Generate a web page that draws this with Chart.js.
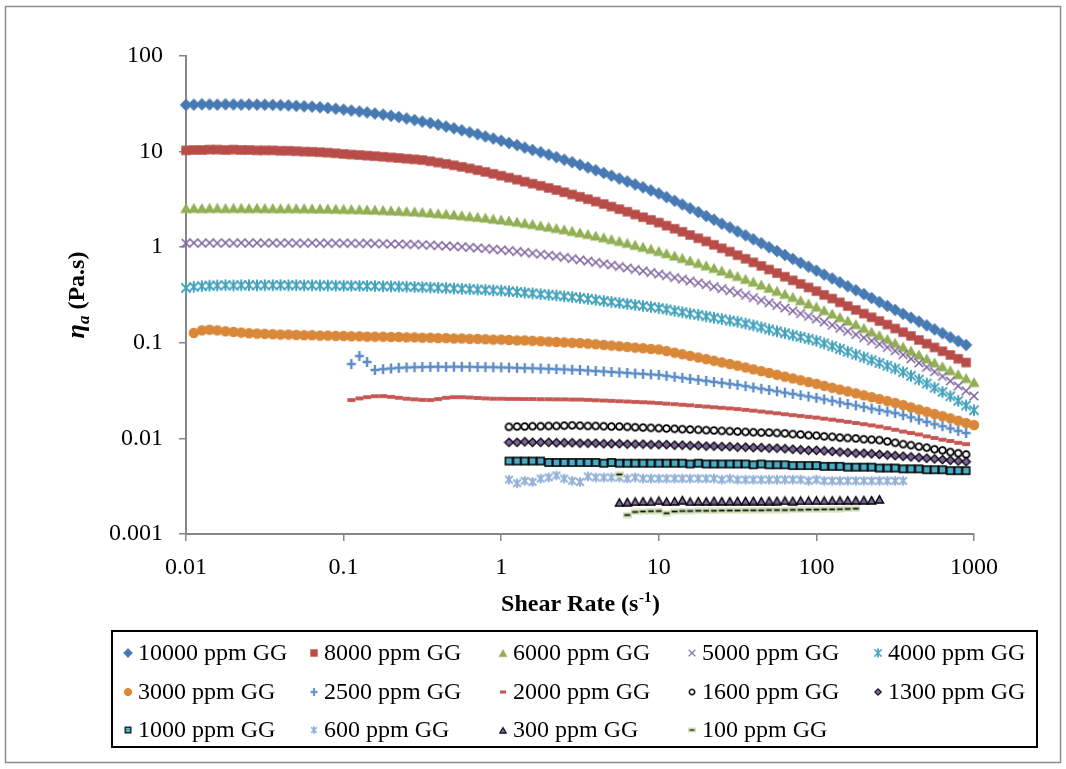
<!DOCTYPE html>
<html>
<head>
<meta charset="utf-8">
<script src="https://cdn.jsdelivr.net/npm/chart.js@4.4.1/dist/chart.umd.min.js"></script>
<style>
  html, body { margin: 0; padding: 0; background: #fff; }
  #wrap { width: 1066px; height: 769px; }
</style>
</head>
<body>
<div id="wrap"><canvas id="chart" width="1066" height="769"></canvas></div>
<script>
// shear rate grid (s-1), 20 points per decade
const xGrid = [0.01,0.0112,0.0126,0.0141,0.0158,0.0178,0.02,0.0224,0.0251,0.0282,0.0316,0.0355,0.0398,0.0447,0.0501,0.0562,0.0631,0.0708,0.0794,0.0891,
  0.1,0.112,0.126,0.141,0.158,0.178,0.2,0.224,0.251,0.282,0.316,0.355,0.398,0.447,0.501,0.562,0.631,0.708,0.794,0.891,
  1,1.12,1.26,1.41,1.58,1.78,2,2.24,2.51,2.82,3.16,3.55,3.98,4.47,5.01,5.62,6.31,7.08,7.94,8.91,
  10,11.2,12.6,14.1,15.8,17.8,20,22.4,25.1,28.2,31.6,35.5,39.8,44.7,50.1,56.2,63.1,70.8,79.4,89.1,
  100,112,126,141,158,178,200,224,251,282,316,355,398,447,501,562,631,708,794,891,1000];

const xTicks = [0.01, 0.1, 1, 10, 100, 1000];
const xTickLabels = ['0.01', '0.1', '1', '10', '100', '1000'];
const yTicks = [0.001, 0.01, 0.1, 1, 10, 100];
const yTickLabels = ['0.001', '0.01', '0.1', '1', '10', '100'];

const labels = ['10000 ppm GG','8000 ppm GG','6000 ppm GG','5000 ppm GG','4000 ppm GG',
  '3000 ppm GG','2500 ppm GG','2000 ppm GG','1600 ppm GG','1300 ppm GG',
  '1000 ppm GG','600 ppm GG','300 ppm GG','100 ppm GG'];
// index into xGrid of each series' first point
const startIdx = [0, 0, 0, 0, 0, 1, 21, 21, 41, 41, 41, 41, 55, 55];

// apparent viscosity (Pa.s)
const eta10000 = [30.8,31,31.2,31.1,31,31.2,31.1,31,31.1,31,30.9,
  30.8,30.6,30.4,30.1,29.8,29.5,29.1,28.6,28.1,27.5,
  26.9,26.3,25.7,25.0,24.4,23.7,23.0,22.2,21.4,20.6,
  19.9,19.1,18.3,17.5,16.7,15.9,15.2,14.4,13.7,13.0,
  12.3,11.7,11.0,10.4,9.85,9.29,8.75,8.23,7.74,7.27,
  6.82,6.39,5.98,5.59,5.22,4.87,4.54,4.23,3.93,3.65,
  3.34,3.06,2.80,2.55,2.33,2.12,1.94,1.76,1.61,1.46,
  1.33,1.21,1.10,1.00,0.911,0.829,0.754,0.686,0.625,0.568,
  0.517,0.471,0.428,0.390,0.355,0.323,0.294,0.267,0.243,0.221,
  0.201,0.183,0.167,0.152,0.138,0.126,0.114,0.104,0.0949];
const eta8000 = [10.3,10.4,10.4,10.5,10.5,10.4,10.5,10.4,10.4,10.3,10.3,
  10.3,10.2,10.2,10.1,10.0,9.95,9.85,9.75,9.6,9.45,
  9.32,9.2,9.08,8.96,8.83,8.7,8.57,8.43,8.3,8.16,
  7.93,7.69,7.45,7.19,6.93,6.67,6.40,6.13,5.86,5.59,
  5.34,5.09,4.85,4.62,4.39,4.17,3.96,3.76,3.56,3.37,
  3.18,3.00,2.83,2.66,2.50,2.35,2.20,2.06,1.93,1.81,
  1.68,1.56,1.45,1.34,1.24,1.15,1.06,0.975,0.898,0.826,
  0.757,0.694,0.637,0.584,0.536,0.491,0.450,0.413,0.379,0.347,
  0.317,0.290,0.265,0.242,0.221,0.202,0.185,0.169,0.155,0.141,
  0.129,0.118,0.107,0.0980,0.0895,0.0817,0.0746,0.0681,0.0622];
const eta6000 = [2.57,2.58,2.57,2.58,2.58,2.57,2.58,2.58,2.57,2.58,2.57,
  2.57,2.56,2.57,2.56,2.56,2.55,2.55,2.54,2.53,2.52,
  2.51,2.50,2.48,2.47,2.45,2.43,2.41,2.39,2.37,2.34,
  2.31,2.27,2.24,2.20,2.16,2.12,2.08,2.04,1.99,1.95,
  1.90,1.85,1.80,1.75,1.69,1.64,1.59,1.54,1.48,1.43,
  1.376,1.322,1.269,1.216,1.164,1.111,1.06,1.01,0.962,0.915,
  0.866,0.818,0.772,0.728,0.686,0.646,0.607,0.570,0.535,0.501,
  0.467,0.436,0.406,0.377,0.350,0.325,0.302,0.279,0.258,0.239,
  0.220,0.202,0.186,0.171,0.157,0.143,0.131,0.120,0.110,0.100,
  0.0910,0.0828,0.0754,0.0686,0.0624,0.0568,0.0517,0.0470,0.0428,0.0389];
const eta5000 = [1.10,1.11,1.10,1.11,1.10,1.11,1.10,1.11,1.10,1.11,1.10,
  1.11,1.10,1.11,1.10,1.10,1.11,1.10,1.10,1.10,1.10,
  1.10,1.09,1.10,1.09,1.09,1.08,1.08,1.07,1.07,1.06,
  1.05,1.04,1.03,1.02,1.01,0.995,0.982,0.968,0.953,0.937,
  0.920,0.902,0.883,0.864,0.844,0.824,0.803,0.782,0.760,0.738,
  0.716,0.694,0.672,0.650,0.628,0.606,0.585,0.564,0.543,0.523,
  0.503,0.482,0.463,0.443,0.424,0.405,0.386,0.368,0.350,0.333,
  0.314,0.296,0.278,0.262,0.246,0.231,0.216,0.202,0.189,0.177,
  0.165,0.153,0.142,0.132,0.122,0.113,0.105,0.0969,0.0895,0.0825,
  0.0751,0.0681,0.0616,0.0555,0.0498,0.0446,0.0398,0.0354,0.0314,0.0278];
const eta4000 = [0.375,0.385,0.392,0.396,0.398,0.40,0.398,0.40,0.401,0.399,0.40,
  0.40,0.401,0.399,0.40,0.398,0.399,0.397,0.398,0.396,0.395,
  0.395,0.394,0.393,0.392,0.391,0.389,0.388,0.386,0.384,0.382,
  0.379,0.376,0.373,0.370,0.367,0.364,0.361,0.358,0.354,0.351,
  0.346,0.340,0.334,0.329,0.323,0.318,0.312,0.306,0.301,0.295,
  0.288,0.281,0.274,0.268,0.261,0.255,0.249,0.243,0.237,0.231,
  0.224,0.216,0.209,0.202,0.196,0.189,0.183,0.177,0.171,0.166,
  0.159,0.152,0.145,0.138,0.132,0.126,0.120,0.115,0.110,0.105,
  0.0985,0.0922,0.0862,0.0806,0.0753,0.0704,0.0658,0.0615,0.0575,0.0537,
  0.0494,0.0452,0.0412,0.0375,0.0339,0.0306,0.0276,0.0247,0.0221,0.0197];
const eta3000 = [0.127,0.135,0.137,0.135,0.132,0.130,0.128,0.126,0.125,0.124,
  0.123,0.122,0.122,0.121,0.120,0.120,0.119,0.119,0.118,0.118,
  0.117,0.117,0.116,0.116,0.116,0.115,0.115,0.114,0.114,0.113,
  0.113,0.112,0.112,0.111,0.111,0.110,0.110,0.109,0.108,0.108,
  0.107,0.106,0.106,0.105,0.104,0.103,0.102,0.101,0.100,0.0995,
  0.0981,0.0966,0.0951,0.0936,0.0921,0.0906,0.0891,0.0877,0.0863,0.0851,
  0.0820,0.0789,0.0759,0.0730,0.0702,0.0675,0.0649,0.0624,0.0600,0.0577,
  0.0552,0.0528,0.0506,0.0484,0.0463,0.0443,0.0424,0.0406,0.0389,0.0372,
  0.0355,0.0339,0.0324,0.0310,0.0296,0.0282,0.0270,0.0258,0.0246,0.0235,
  0.0223,0.0211,0.0200,0.0190,0.0180,0.0171,0.0162,0.0153,0.0145,0.0138];
const eta2500 = [0.060,0.0727,0.063,0.052,0.0530,0.0540,0.0548,0.0552,0.0555,0.0558,
  0.0560,0.0561,0.0560,0.0562,0.0561,0.0560,0.0558,0.0557,0.0555,0.0553,
  0.0550,0.0547,0.0544,0.0541,0.0538,0.0535,0.0531,0.0527,0.0523,0.0519,
  0.0513,0.0507,0.0501,0.0495,0.0490,0.0484,0.0478,0.0473,0.0467,0.0462,
  0.0451,0.0440,0.0430,0.0419,0.0409,0.0400,0.0390,0.0381,0.0372,0.0363,
  0.0352,0.0341,0.0331,0.0321,0.0311,0.0301,0.0292,0.0283,0.0274,0.0266,
  0.0256,0.0247,0.0238,0.0229,0.0221,0.0213,0.0205,0.0198,0.0191,0.0184,
  0.0175,0.0166,0.0157,0.0149,0.0141,0.0134,0.0127,0.0120,0.0114];
const eta2000 = [0.0252,0.0262,0.0270,0.0276,0.0277,0.0272,0.0266,0.0260,0.0256,0.0253,
  0.0252,0.0258,0.0266,0.0270,0.0270,0.0268,0.0265,0.0262,0.0260,0.0260,
  0.0259,0.0259,0.0258,0.0258,0.0257,0.0257,0.0256,0.0256,0.0255,0.0255,
  0.0253,0.0251,0.0249,0.0247,0.0245,0.0243,0.0241,0.0239,0.0237,0.0234,
  0.0231,0.0228,0.0225,0.0222,0.0218,0.0215,0.0212,0.0209,0.0206,0.0203,
  0.0199,0.0195,0.0191,0.0187,0.0183,0.0179,0.0175,0.0172,0.0168,0.0165,
  0.0161,0.0157,0.0153,0.0149,0.0145,0.0141,0.0137,0.0133,
  0.0128,0.0123,0.0118,0.0114,0.0110,0.0105,0.0101,0.0097,0.0094,0.0090,0.0087];
const eta1600 = [0.0132,0.0133,0.0133,0.0134,0.0134,0.0135,0.0135,0.0136,0.0137,0.0136,
  0.0135,0.0135,0.0134,0.0133,0.0133,0.0132,0.0131,0.0130,0.0129,0.0128,
  0.0127,0.0126,0.0125,0.0124,0.0123,0.0122,0.0121,0.0120,0.0119,0.0118,0.0117,0.0116,0.0115,0.0115,0.0114,
  0.0113,0.0111,0.0110,0.0108,0.0107,0.0105,0.0104,0.0102,0.0101,0.0100,0.0098,0.0097,0.0096,
  0.0093,0.0090,0.0087,0.0085,0.0082,0.0080,0.0077,0.0075,0.0072,0.0070,0.0068];
const eta1300 = [0.0091,0.0091,0.0092,0.0091,0.0091,0.0091,0.0090,0.0090,0.0090,0.0089,
  0.0089,0.0089,0.0088,0.0088,0.0088,0.0087,0.0087,0.0087,0.0086,0.0086,
  0.0086,0.0085,0.0085,0.0084,0.0084,0.0083,0.0083,0.0082,0.0082,0.0081,0.0081,0.0080,0.0080,0.0079,0.0079,
  0.0078,0.0077,0.0076,0.0075,0.0075,0.0074,0.0073,0.0072,0.0071,0.0070,0.0070,0.0069,0.0068,
  0.0067,0.0066,0.0065,0.0064,0.0063,0.0062,0.0061,0.0060,0.0059,0.0058,0.0057];
const eta1000 = [0.0058,0.0058,0.0058,0.0058,0.0058,
  0.0056,0.0056,0.0056,0.0056,0.0056,0.0056,0.0056,0.0055,0.0056,0.0055,0.0055,0.0055,0.0055,0.0055,0.0055,
  0.0055,0.0055,0.0055,0.0054,0.0055,0.0054,0.0054,0.0054,0.0054,0.0054,0.0054,0.0053,0.0054,0.0053,0.0053,
  0.0053,0.0052,0.0052,0.0052,0.0052,0.0051,0.0051,0.0051,0.0050,0.0050,0.0050,0.0050,0.0049,
  0.0049,0.0049,0.0048,0.0048,0.0048,0.0047,0.0047,0.0047,0.0046,0.0046,0.0046];
const eta600 = [0.0037,0.0034,0.0036,0.0035,0.0038,0.0039,0.0041,0.0038,0.0036,0.0035,0.0040,0.0039,
  0.0039,0.0039,0.0039,0.0038,0.0039,0.0038,0.0038,0.0038,0.0038,0.0038,0.0038,0.0038,0.0038,0.0038,0.0038,0.0037,0.0038,0.0037,
  0.0037,0.0037,0.0037,0.0037,0.0037,0.0037,0.0037,0.0037,0.0036,0.0037,0.0036,0.0036,0.0036,0.0036,0.0036,0.0036,0.0036,0.0036,0.0036,0.0036,0.0036];
const eta300 = [0.00215,0.00218,0.0022,0.00222,0.0022,0.00225,0.0022,0.00222,0.00228,0.0022,
  0.00222,0.00221,0.00224,0.00222,0.00222,0.00223,0.00223,0.00224,0.00222,0.00224,
  0.00224,0.00225,0.00224,0.00225,0.00225,0.00226,0.00225,0.00226,0.00226,0.00227,
  0.00227,0.00228,0.00227,0.00232];
const eta100 = [0.0042,0.00158,0.0017,0.00172,0.00173,0.00174,0.00165,0.00172,
  0.00174,0.00174,0.00175,0.00175,0.00175,0.00176,0.00176,0.00176,0.00177,0.00177,0.00177,0.00178,
  0.00178,0.00178,0.00179,0.00179,0.0018,0.0018,0.00181,0.00181,0.00182,0.00183,0.00184];

const seriesValues = [eta10000, eta8000, eta6000, eta5000, eta4000, eta3000, eta2500,
  eta2000, eta1600, eta1300, eta1000, eta600, eta300, eta100];

// marker images
function marker(w, h, draw) {
  const c = document.createElement('canvas');
  c.width = w; c.height = h;
  const g = c.getContext('2d');
  draw(g, w / 2, h / 2);
  return c;
}
function diamond(g, cx, cy, r) {
  g.beginPath();
  g.moveTo(cx, cy - r); g.lineTo(cx + r, cy); g.lineTo(cx, cy + r); g.lineTo(cx - r, cy);
  g.closePath();
}
function tri(g, cx, cy, w, h) {
  g.beginPath();
  g.moveTo(cx, cy - h / 2); g.lineTo(cx + w / 2, cy + h / 2); g.lineTo(cx - w / 2, cy + h / 2);
  g.closePath();
}
function asterisk(g, cx, cy, r, color, lw) {
  g.strokeStyle = color; g.lineWidth = lw; g.lineCap = 'butt';
  g.beginPath();
  g.moveTo(cx - r, cy - r); g.lineTo(cx + r, cy + r);
  g.moveTo(cx + r, cy - r); g.lineTo(cx - r, cy + r);
  g.moveTo(cx, cy - r * 1.25); g.lineTo(cx, cy + r * 1.25);
  g.stroke();
}

const markers = [
  marker(14, 14, (g, x, y) => { diamond(g, x, y, 6.2); g.fillStyle = '#4779B3'; g.fill(); }),
  marker(12, 12, (g, x, y) => { g.fillStyle = '#B84C48'; g.fillRect(x - 4.7, y - 4.7, 9.4, 9.4); }),
  marker(14, 13, (g, x, y) => { tri(g, x, y, 11.5, 10); g.fillStyle = '#92AF55'; g.fill(); }),
  marker(12, 12, (g, x, y) => {
    g.strokeStyle = '#7E62A0'; g.lineWidth = 1.6; g.beginPath();
    g.moveTo(x - 4.3, y - 4.3); g.lineTo(x + 4.3, y + 4.3);
    g.moveTo(x + 4.3, y - 4.3); g.lineTo(x - 4.3, y + 4.3); g.stroke();
  }),
  marker(14, 14, (g, x, y) => asterisk(g, x, y, 4.6, '#42A2BB', 2)),
  marker(12, 12, (g, x, y) => { g.beginPath(); g.arc(x, y, 5.2, 0, Math.PI * 2); g.fillStyle = '#D98739'; g.fill(); }),
  marker(12, 12, (g, x, y) => {
    g.strokeStyle = '#5B8CC6'; g.lineWidth = 2.4; g.beginPath();
    g.moveTo(x - 4.5, y); g.lineTo(x + 4.5, y); g.moveTo(x, y - 5); g.lineTo(x, y + 5); g.stroke();
  }),
  marker(10, 6, (g, x, y) => { g.fillStyle = '#C65550'; g.fillRect(x - 4, y - 1.9, 8, 3.8); }),
  marker(11, 11, (g, x, y) => {
    g.beginPath(); g.arc(x, y, 3.4, 0, Math.PI * 2);
    g.fillStyle = '#fff'; g.fill(); g.strokeStyle = '#000'; g.lineWidth = 1.8; g.stroke();
  }),
  marker(11, 11, (g, x, y) => {
    diamond(g, x, y, 4.2); g.fillStyle = '#7F63A1'; g.fill(); g.strokeStyle = '#000'; g.lineWidth = 1.3; g.stroke();
  }),
  marker(11, 11, (g, x, y) => {
    g.fillStyle = '#4BACC6'; g.fillRect(x - 3.6, y - 3.6, 7.2, 7.2);
    g.strokeStyle = '#000'; g.lineWidth = 1.5; g.strokeRect(x - 3.6, y - 3.6, 7.2, 7.2);
  }),
  marker(12, 12, (g, x, y) => asterisk(g, x, y, 3.8, '#93B1D6', 2)),
  marker(11, 10, (g, x, y) => {
    tri(g, x, y + 0.3, 8.2, 7.4); g.fillStyle = '#8064A2'; g.fill(); g.strokeStyle = '#000'; g.lineWidth = 1.4; g.stroke();
  }),
  marker(9, 7, (g, x, y) => {
    g.fillStyle = '#D4E2BA'; g.fillRect(0, 0.5, 9, 6);
    g.fillStyle = '#111'; g.fillRect(x - 3, y - 0.9, 6, 1.8);
  })
];

const datasets = labels.map((label, i) => ({
  label: label,
  data: seriesValues[i].map((v, k) => ({ x: xGrid[startIdx[i] + k], y: v })),
  showLine: false,
  pointStyle: markers[i],
  pointRadius: 5,
  pointHoverRadius: 5,
  clip: false,
  order: -i
}));

const serif = "'Liberation Serif', 'Times New Roman', serif";
const axisGray = '#868686';

const decor = {
  id: 'decor',
  beforeDraw(chart) {
    const g = chart.ctx;
    g.save();
    g.fillStyle = '#fff';
    g.fillRect(0, 0, chart.width, chart.height);
    g.strokeStyle = '#8c8c8c';
    g.lineWidth = 1.5;
    g.strokeRect(5.5, 6.5, 1055, 756);
    g.restore();
  },
  afterDraw(chart) {
    const g = chart.ctx;
    const area = chart.chartArea;
    g.save();
    g.fillStyle = '#000';
    g.textBaseline = 'alphabetic';

    // x axis title with superscript
    const big = 'bold 24px ' + serif;
    const small = 'bold 15px ' + serif;
    const p1 = 'Shear Rate (s', p2 = '-1', p3 = ')';
    g.font = big; const w1 = g.measureText(p1).width; const w3 = g.measureText(p3).width;
    g.font = small; const w2 = g.measureText(p2).width;
    let x0 = (area.left + area.right) / 2 - (w1 + w2 + w3) / 2;
    const by = 611;
    g.font = big; g.fillText(p1, x0, by);
    g.font = small; g.fillText(p2, x0 + w1 + 0.5, by - 9);
    g.font = big; g.fillText(p3, x0 + w1 + w2 + 1, by);

    // y axis title, rotated
    g.translate(84, (area.top + area.bottom) / 2);
    g.rotate(-Math.PI / 2);
    const eta = 'bold italic 26px ' + serif;
    const sub = 'bold italic 17px ' + serif;
    const rest = ' (Pa.s)';
    g.font = eta; const e1 = g.measureText('\u03B7').width;
    g.font = sub; const e2 = g.measureText('a').width;
    g.font = big; const e3 = g.measureText(rest).width;
    let y0 = -(e1 + e2 + e3) / 2;
    g.font = eta; g.fillText('\u03B7', y0, 0);
    g.font = sub; g.fillText('a', y0 + e1, 5);
    g.font = big; g.fillText(rest, y0 + e1 + e2, 0);
    g.restore();

    // legend box
    g.save();
    g.strokeStyle = '#000';
    g.lineWidth = 2;
    g.strokeRect(112, 631, 925, 116);
    const colX = [128, 314, 503, 692, 878];
    const rowY = [653, 692, 730];
    g.font = '24px ' + serif;
    g.fillStyle = '#000';
    g.textBaseline = 'middle';
    chart.data.datasets.forEach((ds, i) => {
      const cx = colX[i % 5], cy = rowY[Math.floor(i / 5)];
      const m = ds.pointStyle;
      const mw = m.width * 0.78, mh = m.height * 0.78;
      g.drawImage(m, cx - mw / 2, cy - mh / 2, mw, mh);
      g.fillText(ds.label, cx + 10, cy + 1);
    });
    g.restore();
  }
};

new Chart(document.getElementById('chart'), {
  type: 'scatter',
  data: { datasets: datasets },
  plugins: [decor],
  options: {
    responsive: false,
    animation: false,
    events: [],
    layout: { padding: { left: 0, top: 56, right: 92, bottom: 135 } },
    plugins: { legend: { display: false }, tooltip: { enabled: false } },
    scales: {
      x: {
        type: 'logarithmic',
        min: 0.01,
        max: 1000,
        afterBuildTicks: s => { s.ticks = xTicks.map(v => ({ value: v })); },
        afterFit: s => { s.height = 100; },
        ticks: {
          callback: (v, i) => xTickLabels[i],
          autoSkip: false, maxRotation: 0, padding: 12,
          color: '#000', font: { family: serif, size: 24 }
        },
        grid: { drawOnChartArea: false, tickLength: 7, color: axisGray, lineWidth: 1.5 },
        border: { color: axisGray, width: 2 }
      },
      y: {
        type: 'logarithmic',
        min: 0.001,
        max: 100,
        afterBuildTicks: s => { s.ticks = yTicks.map(v => ({ value: v })); },
        afterFit: s => { s.width = 186; },
        ticks: {
          callback: (v, i) => yTickLabels[i],
          autoSkip: false, padding: 16,
          color: '#000', font: { family: serif, size: 24 }
        },
        grid: { drawOnChartArea: false, tickLength: 7, color: axisGray, lineWidth: 1.5 },
        border: { color: axisGray, width: 2 }
      }
    }
  }
});
</script>
</body>
</html>
